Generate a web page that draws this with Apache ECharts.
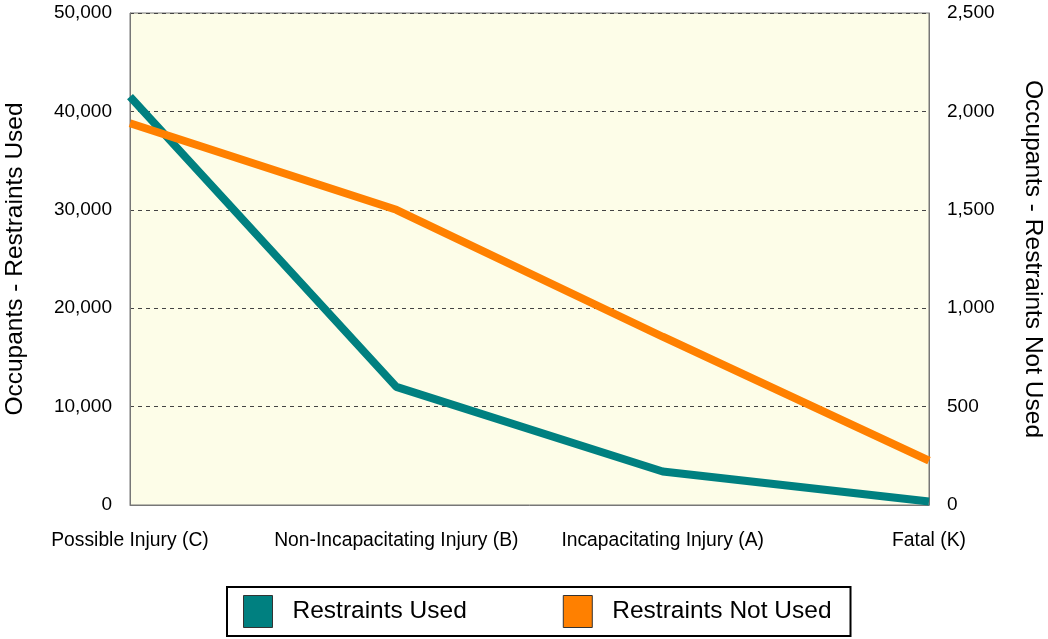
<!DOCTYPE html>
<html><head><meta charset="utf-8">
<script src="https://cdn.jsdelivr.net/npm/echarts@6/dist/echarts.min.js"></script>
<style>html,body{margin:0;padding:0;background:#fff}#c{width:1048px;height:639px}</style>
</head><body><div id="c"></div>
<script>
const categories = ['Possible Injury (C)', 'Non-Incapacitating Injury (B)', 'Incapacitating Injury (A)', 'Fatal (K)'];
const restraintsUsed = [41500, 12000, 3400, 350];
const restraintsNotUsed = [1940, 1500, 855, 225];
const seriesNames = ['Restraints Used', 'Restraints Not Used'];
const leftAxisName = 'Occupants - Restraints Used';
const rightAxisName = 'Occupants - Restraints Not Used';

const font = 'Arial, "Liberation Sans", sans-serif';
const chart = echarts.init(document.getElementById('c'), null, {renderer: 'canvas'});
chart.setOption({
  animation: false,
  backgroundColor: '#ffffff',
  textStyle: {fontFamily: font},
  grid: {left: 130, right: 119, top: 13, bottom: 134, containLabel: false, outerBoundsMode: 'none',
    show: true, backgroundColor: '#FDFDE8', borderColor: '#777', borderWidth: 1},
  legend: {
    data: seriesNames,
    left: 227, top: 587,
    icon: 'rect', itemWidth: 29, itemHeight: 32, itemGap: 96,
    padding: [8, 19, 8, 16],
    borderColor: '#000', borderWidth: 2,
    itemStyle: {borderColor: '#333', borderWidth: 1},
    textStyle: {fontSize: 24.5, color: '#000', fontFamily: font, padding: [0, 0, 0, 15]}
  },
  xAxis: {
    type: 'category', data: categories, boundaryGap: false,
    axisLine: {show: true, lineStyle: {color: '#777'}},
    axisTick: {show: false},
    axisLabel: {fontSize: 19.3, color: '#000', margin: 26, interval: 0, fontFamily: font}
  },
  yAxis: [{
    type: 'value', min: 0, max: 50000, interval: 10000, position: 'left',
    name: leftAxisName, nameLocation: 'middle', nameGap: 102, nameRotate: 90,
    nameTextStyle: {fontSize: 24.5, color: '#000', fontFamily: font},
    axisLine: {show: true, lineStyle: {color: '#777'}},
    axisTick: {show: false},
    axisLabel: {fontSize: 19, color: '#000', margin: 18, fontFamily: font,
      formatter: v => v.toLocaleString('en-US')},
    splitLine: {show: true, lineStyle: {type: [4, 4], color: '#444', width: 1}}
  }, {
    type: 'value', min: 0, max: 2500, interval: 500, position: 'right',
    name: rightAxisName, nameLocation: 'middle', nameGap: 91, nameRotate: -90,
    nameTextStyle: {fontSize: 24.5, color: '#000', fontFamily: font},
    axisLine: {show: true, lineStyle: {color: '#777'}},
    axisTick: {show: false},
    axisLabel: {fontSize: 19, color: '#000', margin: 18, fontFamily: font,
      formatter: v => v.toLocaleString('en-US')},
    splitLine: {show: false}
  }],
  series: [{
    name: seriesNames[0], type: 'line', data: restraintsUsed, yAxisIndex: 0,
    symbol: 'none', color: '#008080',
    lineStyle: {width: 8, color: '#008080'}
  }, {
    name: seriesNames[1], type: 'line', data: restraintsNotUsed, yAxisIndex: 1,
    symbol: 'none', color: '#FF8000',
    lineStyle: {width: 8, color: '#FF8000'}
  }]
});
</script></body></html>
